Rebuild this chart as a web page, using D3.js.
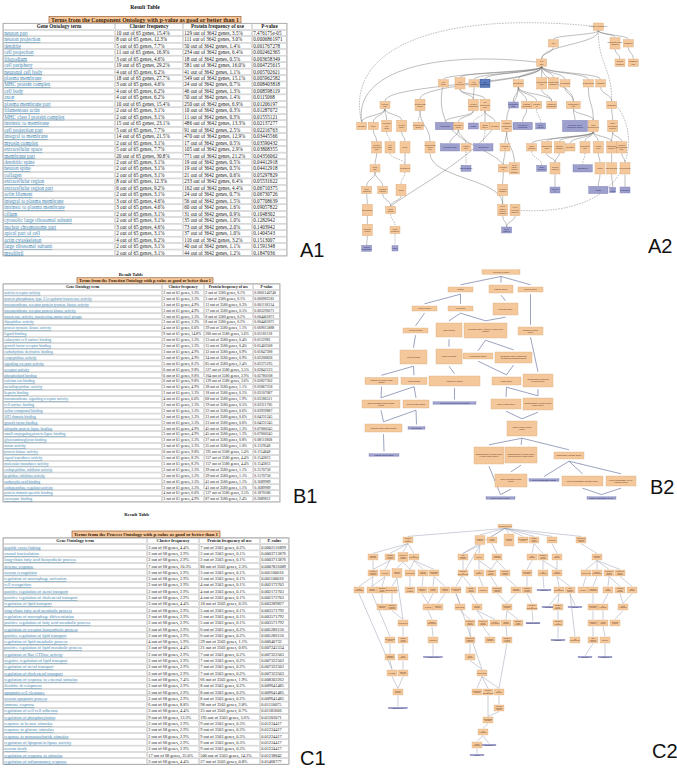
<!DOCTYPE html>
<html><head><meta charset="utf-8">
<script src="https://cdn.jsdelivr.net/npm/d3@7"></script>
<style>html,body{margin:0;padding:0;background:#fff;} svg{display:block}</style>
</head><body><svg id="chart" width="677" height="770"></svg>
<script>
// ---------------- TABLE DATA ----------------
const tableHeader = ["Gene Ontology term","Cluster frequency","Protein frequency of use","P-value"];

const a1Banner = "Terms from the Component Ontology with p-value as good or better than 1";
const a1Terms = ["neuron part","neuron projection","dendrite","cell projection","filopodium","cell periphery","neuronal cell body","plasma membrane","MHC protein complex","cell body","axon","plasma membrane part","filamentous actin","MHC class I protein complex","intrinsic to membrane","cell projection part","integral to membrane","myosin complex","extracellular space","membrane part","dendritic spine","neuron spine","collagen","extracellular region","extracellular region part","actin filament","integral to plasma membrane","intrinsic to plasma membrane","cilium","cytosolic large ribosomal subunit","nuclear chromosome part","apical part of cell","actin cytoskeleton","large ribosomal subunit","myofibril"];
const a1ClusterN = [10,8,5,11,3,19,4,18,3,4,4,10,2,2,15,5,14,2,5,20,2,2,2,8,6,2,3,3,2,2,3,2,4,2,2];
const a1ClusterPct = [15.4,12.3,7.7,16.9,4.6,29.2,6.2,27.7,4.6,6.2,6.2,15.4,3.1,3.1,23.1,7.7,21.5,3.1,7.7,30.8,3.1,3.1,3.1,12.3,9.2,3.1,4.6,4.6,3.1,3.1,4.6,3.1,6.2,3.1,3.1];
const a1ProteinN = [129,111,50,234,18,581,41,549,24,46,50,250,10,11,486,91,470,17,105,771,19,19,21,233,162,24,56,60,31,35,73,37,116,40,44];
const a1ProteinPct = [3.5,3.0,1.4,6.4,0.5,16.0,1.1,15.1,0.7,1.3,1.4,6.9,0.3,0.3,13.3,2.5,12.9,0.5,2.9,21.2,0.5,0.5,0.6,6.4,4.4,0.7,1.5,1.6,0.9,1.0,2.0,1.0,3.2,1.1,1.2];
const a1PValue = ["7.476175e-05","0.0006861971","0.001767278","0.002462365","0.003658349","0.004725615","0.005702621","0.005962582","0.008403818","0.008598119","0.0115068","0.01206197","0.01287072","0.01555121","0.02137277","0.02216763","0.03445566","0.03590432","0.03808355","0.04356062","0.04412918","0.04412918","0.05297829","0.05531622","0.06710375","0.06730726","0.07708639","0.09057822","0.1048302","0.1282942","0.1403942","0.1404543","0.1513007","0.1591348","0.1847036"];

const b1Banner = "Terms from the Function Ontology with p-value as good or better than 1";
const b1Terms = ["activin receptor activity","protein phosphatase type 2A regulator/transferase activity","transmembrane receptor protein tyrosine kinase activity","transmembrane receptor protein kinase activity","transferase activity, transferring amino-acyl groups","dipeptidase activity","protein tyrosine kinase activity","ligand binding","eukaryotic cell surface binding","growth factor receptor binding","carbohydrate derivative binding","exopeptidase activity","signaling receptor activity","receptor activity","phospholipid binding","calcium ion binding","metallopeptidase activity","heparin binding","transmembrane signaling receptor activity","cell surface binding","sulfur compound binding","SH3 domain binding","growth factor binding","ubiquitin protein ligase binding","small conjugating protein ligase binding","glycosaminoglycan binding","motor activity","protein kinase activity","signal transducer activity","molecular transducer activity","endopeptidase inhibitor activity","peptidase inhibitor activity","carboxylic acid binding","endopeptidase regulator activity","protein domain specific binding","coenzyme binding"];
const b1ClusterN = [2,2,3,3,2,2,4,9,2,2,3,3,5,6,6,6,3,2,4,2,2,2,2,3,3,2,2,6,5,5,2,2,2,2,4,3];
const b1ClusterPct = [3.3,3.3,4.9,4.9,3.3,3.3,6.6,14.8,3.3,3.3,4.9,4.9,8.2,9.8,9.8,9.8,4.9,3.3,6.6,3.3,3.3,3.3,3.3,4.9,4.9,3.3,3.3,9.8,8.2,8.2,3.3,3.3,3.3,3.3,6.6,4.9];
const b1ProteinN = [2,3,12,17,8,8,39,200,13,15,32,34,85,127,104,129,38,18,68,19,22,23,23,45,45,27,35,195,157,157,39,39,41,41,127,87];
const b1ProteinPct = [0.1,0.1,0.3,0.5,0.2,0.2,1.1,5.6,0.4,0.4,0.9,0.9,2.4,3.5,2.9,3.6,1.1,0.5,1.9,0.5,0.6,0.6,0.6,1.3,1.3,0.8,1.0,5.4,4.4,4.4,1.1,1.1,1.1,1.1,3.5,2.4];
const b1PValue = ["0.0001146740","0.000982581","0.001118314","0.003290271","0.004461871","0.004461871","0.009015888","0.01181128","0.0122981","0.01403508","0.01847288","0.02208836","0.02375195","0.02842123","0.02780108","0.02827302","0.03067258","0.03107087","0.03186511","0.03311785","0.03939887","0.04231245","0.04231245","0.07000245","0.07000245","0.08111868","0.1129348","0.1154848","0.1543813","0.1543813","0.1570758","0.1570758","0.1689989","0.1689989","0.1870586","0.2089812"];

const c1Banner = "Terms from the Process Ontology with p-value as good or better than 1";
const c1Terms = ["peptide cross-linking","axonal fasciculation","long-chain fatty acid biosynthetic process","defense response","neuron recognition","regulation of macrophage activation","cell recognition","positive regulation of sterol transport","positive regulation of cholesterol transport","regulation of lipid transport","long-chain fatty acid metabolic process","regulation of macrophage differentiation","positive regulation of fatty acid metabolic process","regulation of receptor biosynthetic process","positive regulation of lipid transport","regulation of lipid metabolic process","positive regulation of lipid metabolic process","regulation of Rac GTPase activity","negative regulation of lipid transport","regulation of sterol transport","regulation of cholesterol transport","regulation of response to external stimulus","dendrite development","apoptotic cell clearance","neuron apoptotic process","immune response","regulation of cell-cell adhesion","regulation of phosphorylation","response to hexose stimulus","response to glucose stimulus","response to monosaccharide stimulus","regulation of lipoprotein lipase activity","neuron death","regulation of response to stimulus","regulation of inflammatory response"];
const c1ClusterN = [3,2,2,7,2,2,2,2,2,3,2,2,2,2,2,4,3,2,2,2,2,5,2,2,2,6,3,9,2,2,2,2,2,17,3];
const c1ClusterPct = [4.4,2.9,2.9,10.3,2.9,2.9,2.9,2.9,2.9,4.4,2.9,2.9,2.9,2.9,2.9,5.9,4.4,2.9,2.9,2.9,2.9,7.4,2.9,2.9,2.9,8.8,4.4,13.2,2.9,2.9,2.9,2.9,2.9,25.0,4.4];
const c1ProteinN = [7,2,2,80,3,3,4,4,4,18,5,5,5,6,6,39,21,7,7,7,7,66,8,8,8,98,25,195,9,9,9,9,9,500,27];
const c1ProteinPct = [0.2,0.1,0.1,2.3,0.1,0.1,0.1,0.1,0.1,0.5,0.1,0.1,0.1,0.2,0.2,1.1,0.6,0.2,0.2,0.2,0.2,1.9,0.2,0.2,0.2,2.8,0.7,5.6,0.3,0.3,0.3,0.3,0.3,14.3,0.8];
const c1PValue = ["0.0002116899","0.0003713876","0.0003713876","0.0007831089","0.001100016","0.001100016","0.002172703","0.002172703","0.002172703","0.003289827","0.003571792","0.003571792","0.003571792","0.005286156","0.005286156","0.00640732","0.007245334","0.007322503","0.007322503","0.007322503","0.007322503","0.008302262","0.009641485","0.009641485","0.009641485","0.01110075","0.01185606","0.01203071","0.01224417","0.01224417","0.01224417","0.01224417","0.01224417","0.01238842","0.01468777"];

// ---------------- GRAPH DATA (layout units) ----------------
// A2: [level, x, kind, label, ...parents]
const a2LevelY = [80,130,188,250,315,378,442,505,570,630,690,745];
const a2Nodes = [
 [0,805,'o',"cellular_component"],
 [1,670,'o',"cell",805],[1,855,'t',"macromolecular complex",805],[1,895,'o',"organelle",805],
 [2,635,'o',"cell part",670,"0-805"],[2,870,'o',"protein complex",855],[2,910,'o',"organelle part",895],
 [3,340,'o',"cell body",635],[3,390,'t',"cell projection",635],[3,432,'o',"cell surface",635],[3,465,'B',"cell periphery",635],[3,565,'o',"membrane",635],[3,635,'t',"intracellular part",635],[3,670,'t',"intracellular organelle",635],[3,705,'o',"cytoplasm",635],[3,775,'o',"cytoskeleton",635],[3,812,'o',"synapse",635],
 [4,165,'o',"neuron part","2-635"],[4,270,'t',"extracellular region","2-635"],[4,430,'t',"neuron projection",432,390],[4,465,'t',"cell projection part",390],[4,550,'P',"membrane part",565],[4,590,'o',"plasma membrane",565],[4,620,'o',"intrinsic to membrane",565],[4,665,'o',"organelle membrane",565,635],[4,730,'w',"cytoplasmic part",705,"2-635"],[4,845,'o',"ribosome",812,"~0-805"],
 [5,95,'o',"dendrite",165],[5,130,'o',"axon",165],[5,170,'t',"neuronal cell body",165],[5,215,'t',"neuron spine",165],[5,265,'o',"extracellular space","~270"],[5,345,'PW',"filopodium",430],[5,385,'o',"dendritic spine",430],[5,430,'P',"cilium","~465"],[5,465,'o',"apical part of cell",465],[5,495,'o',"collagen",465],[5,530,'t',"plasma membrane part","3-565"],[5,578,'PW',"integral to membrane",590],[5,632,'P',"MHC protein complex","~620"],[5,735,'PX',"cytosolic large ribosomal subunit",730],[5,790,'t',"actin cytoskeleton",730,"3-775"],[5,848,'t',"large ribosomal subunit",845],
 [6,140,'t',"neuron projection part",130],[6,180,'t',"cell body part","~170"],[6,225,'t',"spine",215],[6,300,'t',"extracellular region part","4-270"],[6,360,'PW',"dendritic shaft",385],[6,408,'o',"growth cone",385],[6,460,'PW',"microvillus","~465"],[6,525,'o',"integral to plasma membrane",530],[6,605,'o',"actin filament",790],[6,650,'t',"filamentous actin",790],[6,688,'t',"myosin complex",790],[6,720,'o',"myofibril",790],[6,765,'t',"contractile fiber",790],[6,805,'t',"stress fiber",790],[6,845,'t',"ribosomal subunit",790,848],[6,875,'t',"nuclear chromosome part",848],
 [7,135,'o',"axon part",140],[7,225,'o',"perikaryon","~180",225],[7,408,'P',"lamellipodium","~408"],[7,520,'o',"intrinsic to plasma membrane",525],[7,553,'t',"MHC class I protein complex","5-530"],[7,635,'P',"actin filament bundle","~605"],[7,675,'t',"myosin filament",650,688],[7,758,'PW',"sarcomere","~765"],[7,810,'t',"Z disc",805],[7,845,'t',"chromosome",845],[7,885,'t',"nucleosome",875],
 [8,110,'o',"axon terminus",135],[8,158,'o',"terminal bouton",135],[8,213,'t',"soma","~225"],[8,518,'t',"receptor complex",520],[8,675,'P',"myosin II complex",675],[8,805,'PW',"I band",810],[8,848,'Ps',"A band",845],[8,885,'P',"chromatin",885],
 [9,112,'t',"presynapse",110],[9,182,'o',"axon hillock",158,213],[9,518,'t',"MHC class II protein complex",518,"6-300"],[9,555,'t',"T cell receptor complex","~553"],
 [10,112,'t',"synaptic vesicle",112],[10,195,'o',"initial segment","~182"],[10,530,'P',"MHC class Ib protein complex",518,555],
 [11,110,'P',"vesicle membrane",112],[11,195,'Ps',"node","~195"]
];
// long bent connectors in A2: [from, to, dashed, control1, control2]
const a2Arcs = [
 ["0-805","5-95",true,[330,30],[40,140]],
 ["2-635","5-95",false,[320,150],[70,210]],
 ["9-555","4-845",true,[930,660],[940,380]],
 ["5-495","9-182",false,[420,480],[260,560]],
 ["3-340","7-520",false,[300,430],[470,430]]
];

// B2: [id, x, y, w, h, kind, label, ...parents]
const b2Nodes = [
 ["r",171,7,38,4.5,"o","molecular_function"],
 ["2a",130.5,24.5,25,5,"o","binding","r"],["2b",171,24,24,8,"o","catalytic activity","r"],["2c",200.5,24.5,25,5,"o","receptor activity","r"],
 ["3a",94.5,43.5,25,5,"o","protein binding","2a"],["3b",130.5,43.5,25,5,"o","ion binding","2a"],["3c",175.5,44,25,12,"o","hydrolase activity","2b"],
 ["4a",85.5,65.5,25,5,"o","receptor binding","3a"],["4b",119,65,26,14,"o","cation binding","3b"],["4c",155.5,65.5,43,15,"o","peptidase activity, acting on L-amino acid peptides","3b","3c"],["4d",200.5,66,25,8,"o","signaling receptor activity","2c"],
 ["5a",83.5,92,27,14,"o","enzyme binding","4a"],["5b",119,91.5,26,15,"o","metal ion binding","4b"],["5c",148,91,30,6,"o","exopeptidase activity","4c"],["5d",183.5,92.5,37,11,"o","transferase activity, transferring phosphorus-containing groups","4c"],
 ["6a",51.5,116,33,7,"o","ubiquitin-like protein ligase binding","5a"],["6b",84,116,26,7,"o","kinase binding","5a"],["6c",124.5,116,51,10,"o","calcium ion binding","5b"],["6d",176.5,116,29,8,"o","kinase activity","5c","5d"],["6e",208,115.5,30,13,"o","transmembrane signaling receptor activity","4d"],
 ["7a",51,139,38,8,"o","small conjugating protein ligase binding","6a","6b"],["7b",86,139,26,8,"o","protein kinase binding","6b"],["7c",124.5,138,43,2.5,"p","calcium-dependent protein binding","6c"],["7d",176,139,30,10,"o","protein kinase activity","6d"],["7e",208,139,30,12,"o","transmembrane receptor protein kinase activity","6d","6e"],
 ["8a",53.5,163,37,8,"o","ubiquitin protein ligase binding","7a","7b"],["8b",86.5,163,17,2.5,"p","SH3 domain binding","7b"],["8c",192,163.5,30,15,"o","protein tyrosine kinase activity","7d","7e"],
 ["9a",54,190,30,2.5,"p","ubiquitin protein ligase binding","8a"],["9b",159,190.5,30,17,"o","transmembrane receptor protein tyrosine kinase activity","8c"],["9c",191,190,32,16,"o","transmembrane receptor protein serine/threonine kinase activity","8c"],["9d",239,190.5,30,7,"o","phosphatase regulator activity","8c"],
 ["10a",181,215.5,32,13,"o","activin-activated receptor activity","9c"],["10b",214,215,30,2.5,"p","protein phosphatase inhibitor activity","9d"],["10c",252.5,216,41,10,"o","protein phosphatase regulator activity","9d"],["10d",291,216,30,10,"o","protein phosphatase type 2A regulator activity","9d"],
 ["11a",170.5,233,29,2.5,"p","activin receptor activity","10a","9b"],["11b",271.5,233,29,2.5,"p","protein phosphatase type 2A regulator activity","10c","10d"]
];

// C2: [level, x, kind, ...parents]
const c2LevelY = [6,20,37,53,70,87,103,120,137,153,172,188,200,212,225,235];
const c2Nodes = [
 [0,175,'r'],
 [1,78,'o',175],[1,150,'t',175],[1,162,'o',175],[1,179,'T',175],[1,193,'o',175],[1,204,'o',175],[1,222,'o',175],[1,251,'o',175],
 [2,43,'o',78],[2,60,'o',78],[2,73,'t',78],[2,84,'o',78],[2,133,'o',150,"0-175"],[2,149,'o',150],[2,167,'o',162],[2,202,'o',204],[2,213,'o',204],[2,227,'o',222],[2,267,'o',251],
 [3,43,'o',43,60],[3,55,'o',60],[3,67,'t',73],[3,80,'o',84,73],[3,93,'o',84],[3,104,'o',84],[3,133,'o',133],[3,149,'o',149],[3,161,'o',149,167],[3,175,'o',167],[3,197,'o',202],[3,213,'o',213],[3,227,'o',213,227],[3,256,'o',267],[3,267,'o',267],[3,279,'o',267],[3,290,'o',267],
 [4,29,'o',43],[4,42,'o',43,55],[4,52,'o',55],[4,62,'o',67],[4,80,'o',80],[4,92,'o',93],[4,103,'o',104],[4,115,'o',104],[4,126,'o',"1-150"],[4,141,'o',133],[4,153,'o',149],[4,167,'o',161],[4,186,'o',175],[4,197,'o',197],[4,214,'p',213],[4,229,'o',227],[4,240,'o',227],[4,253,'o',256],[4,263,'o',267],[4,278,'o',279],[4,290,'o',279],[4,302,'o',290],
 [5,52,'o',52],[5,62,'o',62],[5,98,'o',103,92],[5,108,'o',115],[5,130,'o',126],[5,147,'o',141],[5,177,'o',167,186],[5,202,'o',197],[5,219,'p',229],[5,228,'o',229],[5,245,'p',240],[5,263,'o',263],[5,273,'o',278],[5,293,'o',290,302],
 [6,73,'o',62,"3-67"],[6,102,'o',98],[6,140,'o',130],[6,153,'o',147],[6,165,'o',147],[6,176,'o',177],[6,188,'o',177],[6,203,'p',202],[6,228,'o',228],[6,263,'o',263],[6,273,'o',273],[6,285,'o',293],
 [7,60,'o',"4-42"],[7,73,'o',73],[7,103,'o',102],[7,140,'o',140],[7,160,'o',153],[7,177,'o',176],[7,228,'p',228],[7,245,'o',"4-240"],[7,263,'o',263],[7,275,'o',273],
 [8,60,'o',60],[8,73,'o',73],[8,103,'pw',103],[8,140,'o',140],[8,255,'p',263],[8,275,'p',275],
 [9,62,'o',60,"4-29"],[9,73,'o',73],[9,152,'o',140,"4-126"],
 [10,68,'o',62,73],[10,147,'o',152],[10,158,'o',152],[10,169,'o',152,"7-177"],
 [11,68,'pw',68],[11,169,'o',169],
 [12,158,'o',"10-158",169],
 [13,153,'o',158],
 [14,147,'o',153],[14,159,'p',153],
 [15,147,'p',147]
];
const c2Terms = ["biological_process","regulation of biological process","response to stimulus","cellular process","metabolic process","developmental process","immune system process","localization","multicellular organismal process","biological regulation","regulation of cellular process","response to external stimulus","cell communication","lipid metabolic process","transport","regulation of transport","lipid transport","regulation of lipid transport","sterol transport","cholesterol transport","regulation of immune response","cell death","apoptotic process","neuron death","defense response","inflammatory response","regulation of phosphorylation","cell adhesion","regulation of cell adhesion","fatty acid metabolic process","macrophage activation","cell recognition","neuron recognition","axonogenesis","dendrite development","response to glucose stimulus","response to hexose stimulus","peptide cross-linking","immune response","regulation of Rac GTPase activity"];

// ---------------- DRAWING ----------------
const svg = d3.select("#chart");
const SERIF = "'Liberation Serif','Times New Roman',serif";
const SANS = "'Liberation Sans',Arial,sans-serif";

function drawTable(cfg, d) {
  const g = svg.append("g");
  g.append("text").attr("x", cfg.titleX).attr("y", cfg.titleY).attr("text-anchor", "middle")
    .attr("font-family", SERIF).attr("font-weight", "bold").attr("font-size", cfg.titleFs)
    .attr("fill", "#111").text("Result Table");
  const [bx0, bx1, by0, by1] = cfg.banner;
  g.append("rect").attr("x", bx0).attr("y", by0).attr("width", bx1 - bx0).attr("height", by1 - by0)
    .attr("fill", "#f6c79a").attr("stroke", "#8a4a1e").attr("stroke-width", 0.6);
  g.append("text").attr("x", (bx0 + bx1) / 2).attr("y", (by0 + by1) / 2).attr("dy", "0.35em")
    .attr("text-anchor", "middle").attr("font-family", SERIF).attr("font-weight", "bold")
    .attr("font-size", cfg.bannerFs).attr("fill", "#3a1c08")
    .attr("textLength", bx1 - bx0 - 4).attr("lengthAdjust", "spacingAndGlyphs").text(d.banner);

  const n = d.terms.length;
  const rows = d3.scaleBand().domain(d3.range(n + 1)).range([cfg.top, cfg.bottom]);
  const cols = cfg.cols, bw = rows.bandwidth();
  const body = d.terms.map((t, i) => [t,
    `${d.cN[i]} out of ${d.cTot} genes, ${d.cPct[i].toFixed(1)}%`,
    `${d.pN[i]} out of ${d.pTot} genes, ${d.pPct[i].toFixed(1)}%`,
    d.pv[i]]);
  const table = [tableHeader].concat(body);
  g.append("rect").attr("x", cols[0]).attr("y", cfg.top).attr("width", cols[4] - cols[0])
    .attr("height", cfg.bottom - cfg.top).attr("fill", "#fff").attr("stroke", "#8f8f8f").attr("stroke-width", 0.7);
  const rg = g.selectAll("g.row").data(table).join("g").attr("class", "row");
  rg.each(function (row, r) {
    const sel = d3.select(this);
    sel.selectAll("rect").data(row).join("rect")
      .attr("x", (v, c) => cols[c] + 0.6).attr("y", rows(r) + 0.45)
      .attr("width", (v, c) => cols[c + 1] - cols[c] - 1.2).attr("height", bw - 0.9)
      .attr("fill", "none").attr("stroke", "#b3b3b3").attr("stroke-width", 0.45);
    sel.selectAll("text").data(row).join("text")
      .attr("x", (v, c) => r === 0 ? (cols[c] + cols[c + 1]) / 2 : cols[c] + 1.3)
      .attr("y", rows(r) + bw / 2).attr("dy", "0.34em")
      .attr("text-anchor", r === 0 ? "middle" : "start")
      .attr("font-family", SERIF).attr("font-size", cfg.fs)
      .attr("font-weight", r === 0 ? "bold" : "normal")
      .attr("fill", (v, c) => r > 0 && c === 0 ? "#3f87b3" : "#1a1a1a")
      .attr("text-decoration", (v, c) => r > 0 && c === 0 ? "underline" : null)
      .text(v => v);
  });
}

drawTable({titleX: 145, titleY: 9, titleFs: 5.6, banner: [49, 241, 16.5, 23], bannerFs: 5.2,
  cols: [3, 115, 183, 252, 287], top: 23.3, bottom: 256, fs: 5.1},
  {banner: a1Banner, terms: a1Terms, cN: a1ClusterN, cPct: a1ClusterPct, cTot: 65,
   pN: a1ProteinN, pPct: a1ProteinPct, pTot: 3642, pv: a1PValue});
drawTable({titleX: 131, titleY: 275.5, titleFs: 4.6, banner: [77, 213, 277.8, 283.6], bannerFs: 4,
  cols: [3, 162, 204, 253, 280], top: 283.8, bottom: 502, fs: 3.8},
  {banner: b1Banner, terms: b1Terms, cN: b1ClusterN, cPct: b1ClusterPct, cTot: 61,
   pN: b1ProteinN, pPct: b1ProteinPct, pTot: 3580, pv: b1PValue});
drawTable({titleX: 137, titleY: 515.5, titleFs: 4.8, banner: [72, 220, 531, 537.6], bannerFs: 4.3,
  cols: [3, 147, 199, 260, 289], top: 537.8, bottom: 764.5, fs: 4.3},
  {banner: c1Banner, terms: c1Terms, cN: c1ClusterN, cPct: c1ClusterPct, cTot: 68,
   pN: c1ProteinN, pPct: c1ProteinPct, pTot: 3503, pv: c1PValue});

// ---- graph helpers ----
const kindFill = k => (k === 'B') ? "#5b7dbf" : (/^[pP]/.test(k) ? "#9d9fcc" : "#f5c89b");
const kindStroke = k => (k === 'B') ? "#27468a" : (/^[pP]/.test(k) ? "#7a7db4" : "#d7a573");
const kindText = k => (k === 'B') ? "#0d1d40" : (/^[pP]/.test(k) ? "#262a66" : "#5b3517");

function buildLevelGraph(levelY, list, labelOf) {
  const nodes = [], edges = [];
  list.forEach((row, i) => {
    const [lv, x, kind] = row;
    const hasLabel = typeof row[3] === "string" && !/^~?\d+(-\d+)?$/.test(row[3]);
    const label = hasLabel ? row[3] : labelOf(i);
    const ps = row.slice(hasLabel ? 4 : 3);
    const id = `${lv}-${x}`;
    nodes.push({id, x, y: levelY[lv], kind, label});
    ps.forEach(p => {
      let dashed = false, s = String(p);
      if (s[0] === "~") { dashed = true; s = s.slice(1); }
      const pid = /^\d+-\d+$/.test(s) ? s : `${lv - 1}-${s}`;
      edges.push({s: pid, t: id, dashed});
    });
  });
  return {nodes, edges};
}

function wrapLines(label, wpx, hpx, fs) {
  const maxChars = Math.max(3, Math.floor((wpx - 0.8) / (fs * 0.5)));
  const maxLines = Math.max(1, Math.floor((hpx - 0.4) / (fs * 1.12)));
  const words = label.split(/\s+/); const lines = []; let cur = "";
  words.forEach(w => {
    if ((cur + " " + w).trim().length <= maxChars) cur = (cur + " " + w).trim();
    else { if (cur) lines.push(cur); cur = w; }
  });
  if (cur) lines.push(cur);
  return lines.slice(0, maxLines);
}

function drawGraph(nodes, edges, sx, sy, opt) {
  const g = svg.append("g");
  const byId = new Map(nodes.map(n => [n.id, n]));
  const eg = g.append("g").attr("fill", "none");
  edges.forEach(e => {
    const s = byId.get(e.s), t = byId.get(e.t);
    if (!s || !t) return;
    const x0 = sx(s.x), y0 = sy(s.y) + s.hp / 2 + opt.gap;
    const x1 = sx(t.x), y1 = sy(t.y) - t.hp / 2 - opt.gap;
    let d;
    if (opt.curve) d = d3.linkVertical()({source: [x0, y0], target: [x1, y1]});
    else d = d3.line()([[x0, y0], [x1, y1]]);
    eg.append("path").attr("d", d).attr("stroke", opt.edge).attr("stroke-width", opt.ew)
      .attr("stroke-dasharray", e.dashed ? "1.6,1.1" : null);
  });
  const ng = g.selectAll("g.node").data(nodes).join("g").attr("class", "node")
    .attr("transform", n => `translate(${sx(n.x)},${sy(n.y)})`);
  ng.append("rect").attr("x", n => -n.wp / 2).attr("y", n => -n.hp / 2)
    .attr("width", n => n.wp).attr("height", n => n.hp)
    .attr("fill", n => kindFill(n.kind)).attr("stroke", n => kindStroke(n.kind)).attr("stroke-width", opt.nsw);
  ng.each(function (n) {
    const fs = opt.fs;
    const lines = wrapLines(n.label, n.wp, Math.max(n.hp, fs * 1.15), fs);
    const t0 = -(lines.length - 1) * fs * 1.12 / 2;
    d3.select(this).selectAll("text").data(lines).join("text")
      .attr("x", 0).attr("y", (l, i) => t0 + i * fs * 1.12).attr("dy", "0.35em")
      .attr("text-anchor", "middle").attr("font-family", SANS).attr("font-size", fs)
      .attr("fill", kindText(n.kind)).text(l => l);
  });
  return {g, byId};
}

// ---- A2 ----
const a2Size = {o: [30, 22], t: [30, 34], w: [42, 22], B: [30, 25], P: [30, 18], PW: [58, 22], PX: [75, 34], Ps: [18, 16]};
const a2x = d3.scaleLinear().domain([0, 1041]).range([330, 677]);
const a2y = d3.scaleLinear().domain([0, 1020]).range([0, 340]);
const A2 = buildLevelGraph(a2LevelY, a2Nodes, () => "");
A2.nodes.forEach(n => { const [w, h] = a2Size[n.kind]; n.wp = a2x(w) - a2x(0); n.hp = a2y(h) - a2y(0); });
const a2Draw = drawGraph(A2.nodes, A2.edges, a2x, a2y, {curve: true, gap: 0.2, edge: "#6d6d6d", ew: 0.45, nsw: 0.4, fs: 2.1});
const a2Arc = a2Draw.g.insert("g", ":first-child").attr("fill", "none");
a2Arcs.forEach(([f, t, dashed, c1, c2]) => {
  const s = a2Draw.byId.get(f), e = a2Draw.byId.get(t);
  const p = d3.path();
  p.moveTo(a2x(s.x), a2y(s.y));
  p.bezierCurveTo(a2x(c1[0]), a2y(c1[1]), a2x(c2[0]), a2y(c2[1]), a2x(e.x), a2y(e.y) - e.hp / 2);
  a2Arc.append("path").attr("d", p.toString()).attr("stroke", "#6d6d6d").attr("stroke-width", 0.45)
    .attr("stroke-dasharray", dashed ? "1.6,1.1" : null);
});

// ---- B2 ----
const b2x = d3.scaleLinear().domain([0, 347]).range([330, 677]);
const b2y = d3.scaleLinear().domain([0, 240]).range([265, 505]);
const B2nodes = b2Nodes.map(r => ({id: r[0], x: r[1], y: r[2], wp: r[3], hp: r[4], kind: r[5], label: r[6]}));
const B2edges = [];
b2Nodes.forEach(r => r.slice(7).forEach(p => B2edges.push({s: p, t: r[0], dashed: false})));
drawGraph(B2nodes, B2edges, b2x, b2y, {curve: false, gap: 2.2, edge: "#7a84a8", ew: 0.75, nsw: 0.35, fs: 1.9});

// ---- C2 ----
const c2Size = {r: [14, 3.5], o: [10, 6], t: [10, 9], T: [10, 12], p: [14, 1.6], pw: [19, 1.6]};
const c2x = d3.scaleLinear().domain([0, 347]).range([330, 677]);
const c2y = d3.scaleLinear().domain([0, 250]).range([520, 770]);
const C2 = buildLevelGraph(c2LevelY, c2Nodes, i => c2Terms[i % c2Terms.length]);
C2.nodes.forEach(n => { const [w, h] = c2Size[n.kind]; n.wp = w; n.hp = h; });
drawGraph(C2.nodes, C2.edges, c2x, c2y, {curve: false, gap: 0.6, edge: "#8c95ad", ew: 0.45, nsw: 0.3, fs: 1.5});

// ---- panel labels ----
const panelLabels = [["A1", 300, 257], ["A2", 648, 253], ["B1", 293, 503], ["B2", 650, 494], ["C1", 300, 765], ["C2", 652, 758]];
svg.selectAll("text.plabel").data(panelLabels).join("text").attr("class", "plabel")
  .attr("x", d => d[1]).attr("y", d => d[2]).attr("font-family", SANS).attr("font-size", 20)
  .attr("fill", "#111").text(d => d[0]);
</script></body></html>
